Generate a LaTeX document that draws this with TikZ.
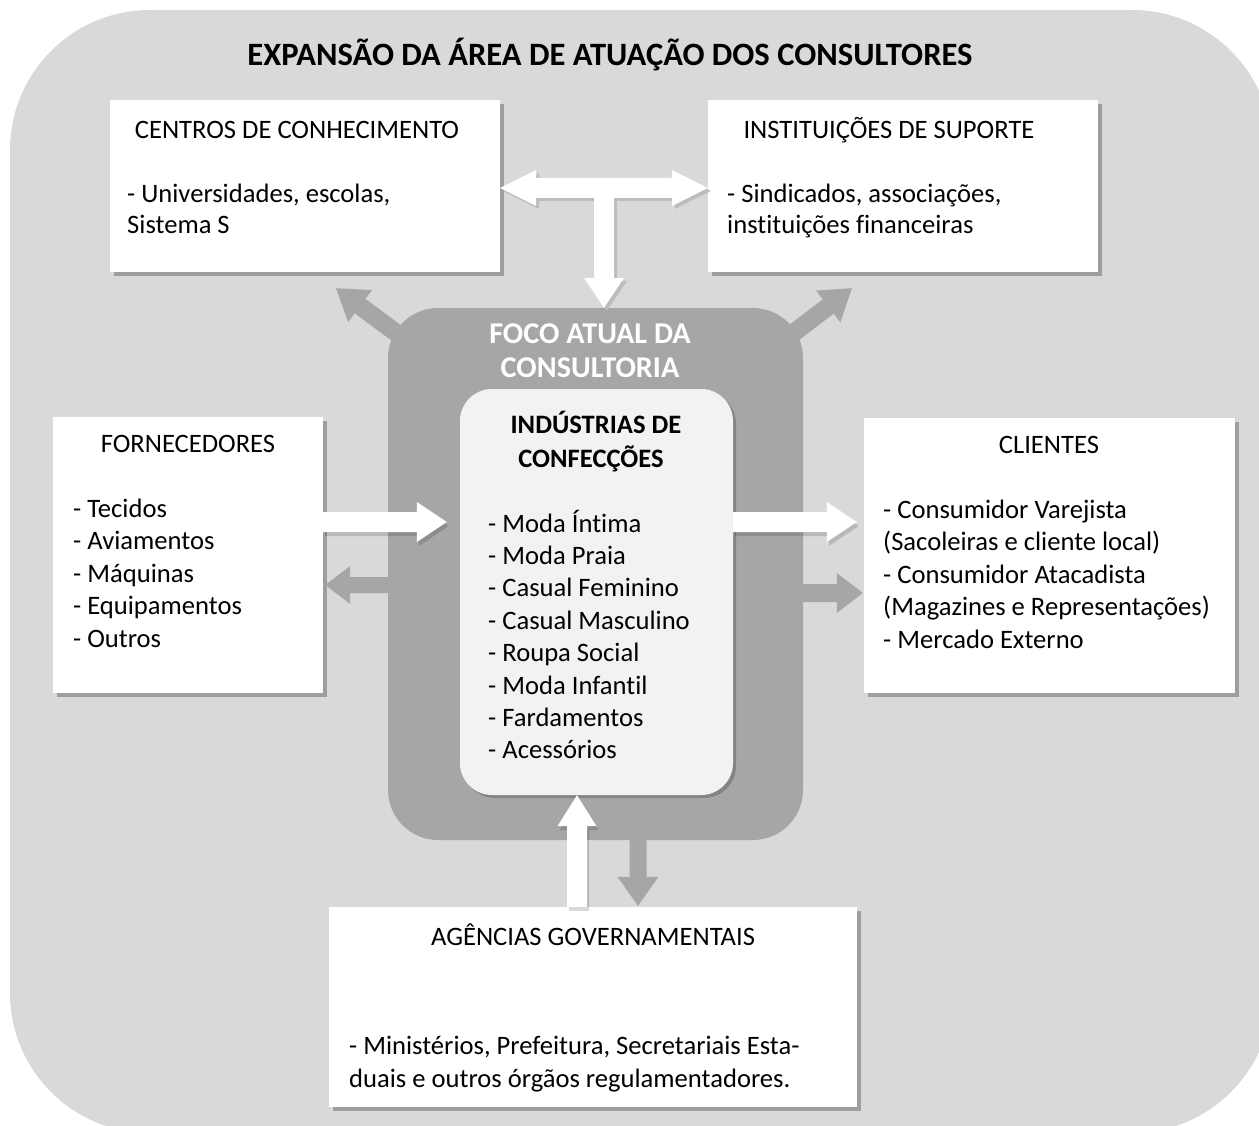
\documentclass[tikz,border=0pt]{standalone}
\usepackage{fontspec}
\setmainfont{Carlito}[Ligatures=NoCommon]
\usetikzlibrary{calc,shadows}

\definecolor{canvasgray}{HTML}{D9D9D9}
\definecolor{focusgray}{HTML}{A6A6A6}
\definecolor{innerfill}{HTML}{F2F2F2}
\definecolor{tshadow}{HTML}{BDBDBD}

\newcommand\bodysize{\fontsize{26.6}{32}\selectfont}

% block arrow: style, from, tip, shaft half-width, head half-width, head length
\newcommand\blockarrow[6]{%
  \coordinate (bah) at ($(#3)!#6!(#2)$);
  \fill[#1] ($(#2)!#4!90:(#3)$) -- ($(bah)!#4!-90:(#2)$) -- ($(bah)!#5!-90:(#2)$)
    -- (#3) -- ($(bah)!#5!90:(#2)$) -- ($(bah)!#4!90:(#2)$) -- ($(#2)!#4!-90:(#3)$) -- cycle;}

% two-headed block arrow: style, tip A, tip B, shaft half-width, head half-width, head length
\newcommand\doublearrow[6]{%
  \coordinate (dah1) at ($(#2)!#6!(#3)$);
  \coordinate (dah2) at ($(#3)!#6!(#2)$);
  \fill[#1] (#2) -- ($(dah1)!#5!90:(#3)$) -- ($(dah1)!#4!90:(#3)$) -- ($(dah2)!#4!-90:(#2)$)
    -- ($(dah2)!#5!-90:(#2)$) -- (#3) -- ($(dah2)!#5!90:(#2)$) -- ($(dah2)!#4!90:(#2)$)
    -- ($(dah1)!#4!-90:(#3)$) -- ($(dah1)!#5!-90:(#3)$) -- cycle;}

\tikzset{
  panel/.style={fill=white, inner sep=0pt,
    drop shadow={shadow xshift=4pt, shadow yshift=-4pt, opacity=0.27, fill=black}},
  focus/.style={fill=focusgray, rounded corners=50pt, inner sep=0pt},
  core/.style={fill=innerfill, rounded corners=32pt, inner sep=0pt,
    drop shadow={shadow xshift=3pt, shadow yshift=-3pt, opacity=0.2, fill=black}},
  graybar/.style={fill=focusgray},
  whitebar/.style={fill=white},
  barshadow/.style={fill=black, opacity=0.15, transform canvas={shift={(2pt,-4pt)}}},
  tbarshadow/.style={fill=tshadow, transform canvas={shift={(3pt,-3pt)}}},
  boxtitle/.style={font=\bodysize, anchor=base, inner sep=0pt},
  item/.style={font=\bodysize, anchor=base west, inner sep=0pt},
  heading/.style={font=\bfseries\fontsize{32.6}{38}\selectfont, anchor=base, inner sep=0pt},
  focustext/.style={font=\bfseries\fontsize{30.2}{34}\selectfont, text=white, anchor=base, inner sep=0pt},
  coretitle/.style={font=\bfseries\bodysize, anchor=base, inner sep=0pt},
}

\begin{document}
\begin{tikzpicture}[x=1pt,y=-1pt]
\useasboundingbox (0,0) rectangle (1259,1126);
\fill[canvasgray, rounded corners=140pt] (10,10) rectangle (1272,1133);

% current focus of the consultancy
\node[focus, minimum width=415pt, minimum height=532pt] (foco) at (595.5,574) {};

% surrounding actors
\node[panel, minimum width=390pt, minimum height=172pt] (centros) at (305,186) {};
\node[panel, minimum width=390pt, minimum height=172pt] (institu) at (903,186) {};
\node[panel, minimum width=270pt, minimum height=276pt] (forn) at (188,555) {};
\node[panel, minimum width=371pt, minimum height=275pt] (clientes) at (1049.5,555.5) {};
\node[panel, minimum width=528pt, minimum height=200pt] (agencias) at (593,1007) {};

% garment industries
\node[core, minimum width=273pt, minimum height=406pt] (core) at (596.5,592) {};

% grey arrows leaving the focus area
\coordinate (dl-s) at ($(foco.north west)+(42,50)$);
\coordinate (dl-e) at ($(centros.south)+(31,16)$);
\coordinate (dr-s) at ($(foco.north east)+(-42,50)$);
\coordinate (dr-e) at ($(institu.south)+(-51,16)$);
\coordinate (gl-s) at ($(foco.west |- 0,585)+(6,0)$);
\coordinate (gl-e) at ($(forn.east |- 0,585)+(2,0)$);
\coordinate (gr-s) at ($(foco.east |- 0,593)+(-6,0)$);
\coordinate (gr-e) at ($(clientes.west |- 0,593)+(-1,0)$);
\coordinate (gd-s) at ($(foco.south -| 638,0)+(0,-6)$);
\coordinate (gd-e) at ($(agencias.north -| 638,0)+(0,-1)$);
\blockarrow{graybar}{dl-s}{dl-e}{9pt}{20pt}{30pt}
\blockarrow{graybar}{dr-s}{dr-e}{9pt}{20pt}{30pt}
\blockarrow{graybar}{gl-s}{gl-e}{8pt}{19pt}{25pt}
\blockarrow{graybar}{gr-s}{gr-e}{9pt}{20pt}{26pt}
\blockarrow{graybar}{gd-s}{gd-e}{8.5pt}{20.5pt}{29pt}

% white arrows into and out of the industries
\coordinate (wl-s) at (forn.east |- 0,522);
\coordinate (wl-e) at ($(core.west |- 0,522)+(-13,0)$);
\coordinate (wr-s) at (core.east |- 0,522);
\coordinate (wr-e) at ($(clientes.west |- 0,522)+(-7,0)$);
\coordinate (wu-s) at (agencias.north -| 577,0);
\coordinate (wu-e) at (core.south -| 577,0);
\blockarrow{barshadow}{wl-s}{wl-e}{10pt}{20pt}{30pt}
\blockarrow{barshadow}{wr-s}{wr-e}{10pt}{20pt}{30pt}
\blockarrow{barshadow}{wu-s}{wu-e}{10pt}{19.5pt}{31pt}
\blockarrow{whitebar}{wl-s}{wl-e}{10pt}{20pt}{30pt}
\blockarrow{whitebar}{wr-s}{wr-e}{10pt}{20pt}{30pt}
\blockarrow{whitebar}{wu-s}{wu-e}{10pt}{19.5pt}{31pt}

% T-shaped arrow between the upper boxes and the focus area
\coordinate (tl) at (centros.east |- 0,188);
\coordinate (tr) at (institu.west |- 0,188);
\coordinate (tm) at ($(tl)!0.5!(tr)$);
\coordinate (tb) at (foco.north -| tm);
\doublearrow{tbarshadow}{tl}{tr}{10pt}{18pt}{36pt}
\blockarrow{tbarshadow}{tm}{tb}{10pt}{20pt}{30pt}
\doublearrow{whitebar}{tl}{tr}{10pt}{18pt}{36pt}
\blockarrow{whitebar}{tm}{tb}{10pt}{20pt}{30pt}

% texts
\node[heading] (head) at (610,66) {EXPANSÃO DA ÁREA DE ATUAÇÃO DOS CONSULTORES};

\node[boxtitle] (centros-t) at (297,139) {CENTROS DE CONHECIMENTO};
\node[item] (centros-1) at (127,203) {- Universidades, escolas,};
\node[item] (centros-2) at (127,234) {Sistema S};

\node[boxtitle] (institu-t) at (889,139) {INSTITUIÇÕES DE SUPORTE};
\node[item] (institu-1) at (727,203) {- Sindicados, associações,};
\node[item] (institu-2) at (727,234) {instituições financeiras};

\node[boxtitle] (forn-t) at (188,452) {FORNECEDORES};
\foreach \t [count=\i from 0] in {Tecidos,Aviamentos,Máquinas,Equipamentos,Outros}
  \node[item] (forn-\i) at (73,{517+32.5*\i}) {- \t};

\node[boxtitle] (clientes-t) at (1049,453) {CLIENTES};
\foreach \t [count=\i from 0] in {{- Consumidor Varejista},{(Sacoleiras e cliente local)},{- Consumidor Atacadista},{(Magazines e Representações)},{- Mercado Externo}}
  \node[item] (clientes-\i) at (883,{518+32.5*\i}) {\t};

\node[focustext] (foco-1) at (590,343) {FOCO ATUAL DA};
\node[focustext] (foco-2) at (590,377) {CONSULTORIA};
\node[coretitle] (core-t1) at (596,433) {INDÚSTRIAS DE};
\node[coretitle] (core-t2) at (591,467) {CONFECÇÕES};
\foreach \t [count=\i from 0] in {Moda Íntima,Moda Praia,Casual Feminino,Casual Masculino,Roupa Social,Moda Infantil,Fardamentos,Acessórios}
  \node[item] (core-\i) at (488,{532+32.4*\i}) {- \t};

\node[boxtitle] (agencias-t) at (593,945) {AGÊNCIAS GOVERNAMENTAIS};
\node[item] (agencias-1) at (349,1054) {- Ministérios, Prefeitura, Secretariais Esta-};
\node[item] (agencias-2) at (349,1087) {duais e outros órgãos regulamentadores.};
\end{tikzpicture}
\end{document}
